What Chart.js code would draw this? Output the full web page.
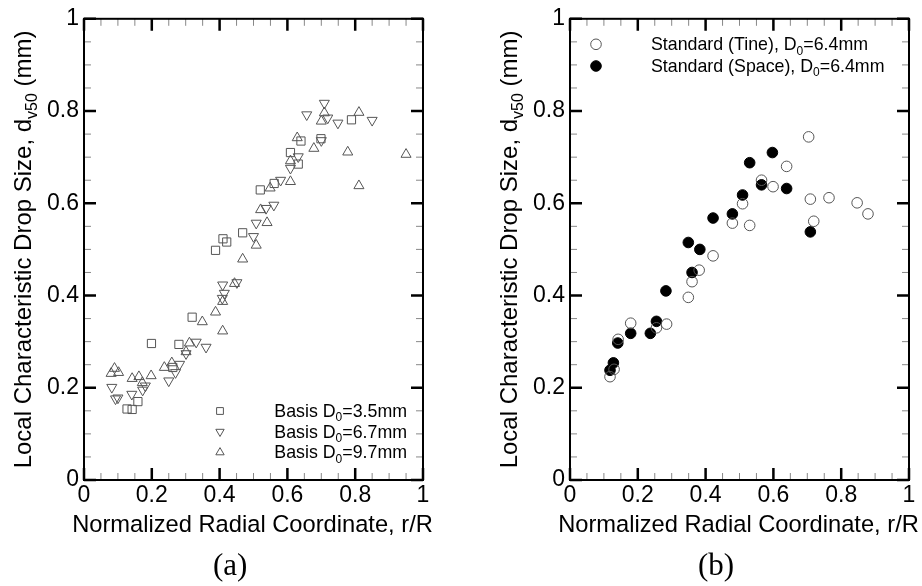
<!DOCTYPE html>
<html>
<head>
<meta charset="utf-8">
<script src="https://cdn.jsdelivr.net/npm/chart.js"></script>
<style>
  html, body { margin: 0; padding: 0; background: #fff; }
  body { width: 922px; height: 586px; position: relative; overflow: hidden; }
  .panel { position: absolute; top: 0; height: 586px; }
  #pa { left: 0; width: 460px; }
  #pb { left: 460px; width: 462px; }
  .cap { position: absolute; top: 549px; line-height: 1; font-family: "Liberation Serif", "Times New Roman", serif; font-size: 31px; color: #000; }
</style>
</head>
<body>
<div class="panel" id="pa"><canvas id="chartA"></canvas></div>
<div class="panel" id="pb"><canvas id="chartB"></canvas></div>
<div class="cap" style="left:213px">(a)</div>
<div class="cap" style="left:698px">(b)</div>

<script>
// tick labels (major ticks every 0.2, minor every 0.05)
const xTickLabels = ['0', '0.2', '0.4', '0.6', '0.8', '1'];
const yTickLabels = ['0', '0.2', '0.4', '0.6', '0.8', '1'];

const xTitle = 'Normalized Radial Coordinate, r/R';
// text between | | is drawn as subscript
const yTitle = 'Local Characteristic Drop Size, d|v50| (mm)';

// panel (a) - basis nozzles, [r/R, dv50]
const basisLabels = ['Basis D|0|=3.5mm', 'Basis D|0|=6.7mm', 'Basis D|0|=9.7mm'];
const basis35 = [
  [0.127, 0.154], [0.142, 0.153], [0.159, 0.170], [0.199, 0.296], [0.262, 0.244],
  [0.280, 0.294], [0.319, 0.353], [0.388, 0.498], [0.410, 0.523], [0.421, 0.516],
  [0.468, 0.536], [0.520, 0.629], [0.561, 0.643], [0.609, 0.710], [0.632, 0.685],
  [0.640, 0.735], [0.699, 0.740], [0.789, 0.781]
];
const basis67 = [
  [0.082, 0.201], [0.093, 0.176], [0.100, 0.178], [0.141, 0.186], [0.173, 0.195],
  [0.181, 0.204], [0.250, 0.215], [0.270, 0.233], [0.282, 0.251], [0.301, 0.274],
  [0.331, 0.299], [0.360, 0.288], [0.408, 0.394], [0.414, 0.405], [0.409, 0.423],
  [0.451, 0.428], [0.500, 0.528], [0.508, 0.557], [0.537, 0.589], [0.560, 0.596],
  [0.580, 0.650], [0.609, 0.676], [0.632, 0.701], [0.657, 0.792], [0.700, 0.736],
  [0.709, 0.817], [0.719, 0.785], [0.749, 0.774], [0.850, 0.780]
];
const basis97 = [
  [0.080, 0.231], [0.090, 0.242], [0.102, 0.233], [0.142, 0.220], [0.162, 0.224],
  [0.172, 0.211], [0.198, 0.226], [0.237, 0.244], [0.259, 0.254], [0.301, 0.278],
  [0.311, 0.297], [0.349, 0.343], [0.388, 0.364], [0.409, 0.323], [0.409, 0.387],
  [0.444, 0.426], [0.468, 0.479], [0.508, 0.509], [0.521, 0.586], [0.540, 0.558],
  [0.549, 0.633], [0.609, 0.647], [0.609, 0.692], [0.629, 0.742], [0.678, 0.719],
  [0.700, 0.778], [0.709, 0.796], [0.778, 0.711], [0.811, 0.797], [0.811, 0.638],
  [0.950, 0.706]
];

// panel (b) - standard nozzle, tine vs space positions
const standardLabels = ['Standard (Tine), D|0|=6.4mm', 'Standard (Space), D|0|=6.4mm'];
const tine = [
  [0.118, 0.224], [0.130, 0.240], [0.142, 0.305], [0.179, 0.340], [0.255, 0.330],
  [0.285, 0.338], [0.349, 0.396], [0.360, 0.430], [0.381, 0.455], [0.422, 0.486],
  [0.479, 0.557], [0.509, 0.599], [0.530, 0.552], [0.565, 0.650], [0.599, 0.636],
  [0.639, 0.680], [0.704, 0.744], [0.709, 0.609], [0.719, 0.561], [0.764, 0.612],
  [0.847, 0.601], [0.879, 0.577]
];
const space = [
  [0.118, 0.238], [0.128, 0.254], [0.141, 0.297], [0.179, 0.318], [0.237, 0.318],
  [0.255, 0.344], [0.283, 0.410], [0.349, 0.515], [0.360, 0.450], [0.383, 0.500],
  [0.422, 0.568], [0.479, 0.577], [0.509, 0.618], [0.530, 0.688], [0.565, 0.640],
  [0.597, 0.710], [0.639, 0.632], [0.709, 0.538]
];

const SANS = '"Liberation Sans", Arial, sans-serif';
const pts = arr => arr.map(p => ({ x: p[0], y: p[1] }));
const isMajor = v => Math.abs(v / 0.2 - Math.round(v / 0.2)) < 1e-6;

function drawRich(ctx, str, x, y, size, align) {
  const parts = str.split('|').map((t, i) => ({ t, sub: i % 2 === 1 }));
  const main = size + 'px ' + SANS;
  const small = Math.round(size * 0.65) + 'px ' + SANS;
  let w = 0;
  parts.forEach(p => { ctx.font = p.sub ? small : main; p.w = ctx.measureText(p.t).width; w += p.w; });
  let cx = align === 'right' ? x - w : align === 'center' ? x - w / 2 : x;
  ctx.textAlign = 'left';
  ctx.textBaseline = 'alphabetic';
  parts.forEach(p => {
    ctx.font = p.sub ? small : main;
    ctx.fillText(p.t, cx, y + (p.sub ? size * 0.24 : 0));
    cx += p.w;
  });
}

// frame, inward ticks, axis titles and legend
const decor = {
  id: 'decor',
  afterDraw(chart, args, o) {
    const { ctx, chartArea: a, scales: { x, y } } = chart;
    ctx.save();
    const tick = (major) => {
      ctx.strokeStyle = major ? '#000' : '#888';
      ctx.lineWidth = major ? 2.5 : 1;
      return major ? 12 : 7;
    };
    x.ticks.forEach(t => {
      const px = x.getPixelForValue(t.value);
      const len = tick(isMajor(t.value));
      ctx.beginPath();
      ctx.moveTo(px, a.bottom); ctx.lineTo(px, a.bottom - len);
      ctx.moveTo(px, a.top); ctx.lineTo(px, a.top + len);
      ctx.stroke();
    });
    y.ticks.forEach(t => {
      const py = y.getPixelForValue(t.value);
      const len = tick(isMajor(t.value));
      ctx.beginPath();
      ctx.moveTo(a.left, py); ctx.lineTo(a.left + len, py);
      ctx.moveTo(a.right, py); ctx.lineTo(a.right - len, py);
      ctx.stroke();
    });
    ctx.strokeStyle = '#000';
    ctx.lineWidth = 2;
    ctx.strokeRect(a.left, a.top, a.right - a.left, a.bottom - a.top);

    ctx.fillStyle = '#000';
    // x axis title (drawn here so it may run wider than the plot)
    drawRich(ctx, xTitle, (a.left + a.right) / 2 - 1, a.bottom + 52, 23.7, 'center');

    // y axis title
    ctx.save();
    ctx.translate(o.titleX, (a.top + a.bottom) / 2);
    ctx.rotate(-Math.PI / 2);
    drawRich(ctx, yTitle, 0, 0, 24, 'center');
    ctx.restore();

    // legend
    chart.data.datasets.forEach((ds, i) => {
      const ly = o.legendY + i * o.legendGap;
      ctx.fillStyle = ds.backgroundColor;
      ctx.strokeStyle = ds.borderColor;
      ctx.lineWidth = 1;
      Chart.helpers.drawPoint(ctx, {
        pointStyle: ds.pointStyle, rotation: ds.pointRotation || 0,
        radius: o.legendR, borderWidth: 1
      }, o.markerX, ly);
      ctx.fillStyle = '#000';
      drawRich(ctx, o.labels[i], o.textX, ly + 6, 17.8, o.textAlign);
    });
    ctx.restore();
  }
};

function makeChart(id, datasets, yw, padRight, deco) {
  return new Chart(document.getElementById(id), {
    type: 'scatter',
    data: { datasets },
    options: {
      responsive: true,
      maintainAspectRatio: false,
      animation: false,
      events: [],
      layout: { padding: { left: 0, right: padRight, top: 15, bottom: 0 } },
      plugins: { legend: { display: false }, tooltip: { enabled: false }, decor: deco },
      scales: {
        x: {
          type: 'linear', min: 0, max: 1,
          grid: { display: false, drawTicks: false },
          border: { display: false },
          ticks: {
            stepSize: 0.05, autoSkip: false, maxRotation: 0, padding: 2,
            color: '#000', font: { family: SANS, size: 23 },
            callback: v => isMajor(v) ? xTickLabels[Math.round(v / 0.2)] : ''
          },
          afterFit: s => { s.height = 106; }
        },
        y: {
          type: 'linear', min: 0, max: 1,
          grid: { display: false, drawTicks: false },
          border: { display: false },
          ticks: {
            stepSize: 0.05, autoSkip: false, padding: 5,
            color: '#000', font: { family: SANS, size: 23 },
            callback: v => isMajor(v) ? yTickLabels[Math.round(v / 0.2)] : ''
          },
          afterFit: s => { s.width = yw; }
        }
      }
    },
    plugins: [decor]
  });
}

const open = 'rgba(0,0,0,0)';
makeChart('chartA', [
  { label: basisLabels[0], data: pts(basis35), pointStyle: 'rect', pointRadius: 5.8,
    backgroundColor: open, borderColor: '#555', borderWidth: 1 },
  { label: basisLabels[1], data: pts(basis67), pointStyle: 'triangle', pointRotation: 180, pointRadius: 5.8,
    backgroundColor: open, borderColor: '#555', borderWidth: 1 },
  { label: basisLabels[2], data: pts(basis97), pointStyle: 'triangle', pointRadius: 5.8,
    backgroundColor: open, borderColor: '#555', borderWidth: 1 }
], 84, 37, {
  titleX: 31, labels: basisLabels, legendY: 411, legendGap: 20.7, legendR: 4.8,
  markerX: 220, textX: 407, textAlign: 'right'
});

makeChart('chartB', [
  { label: standardLabels[0], data: pts(tine), pointStyle: 'circle', pointRadius: 5.3,
    backgroundColor: open, borderColor: '#555', borderWidth: 1 },
  { label: standardLabels[1], data: pts(space), pointStyle: 'circle', pointRadius: 5.3,
    backgroundColor: '#000', borderColor: '#000', borderWidth: 1 }
], 110, 13, {
  titleX: 57, labels: standardLabels, legendY: 44.3, legendGap: 21.7, legendR: 5.3,
  markerX: 136, textX: 191, textAlign: 'left'
});
</script>
</body>
</html>
